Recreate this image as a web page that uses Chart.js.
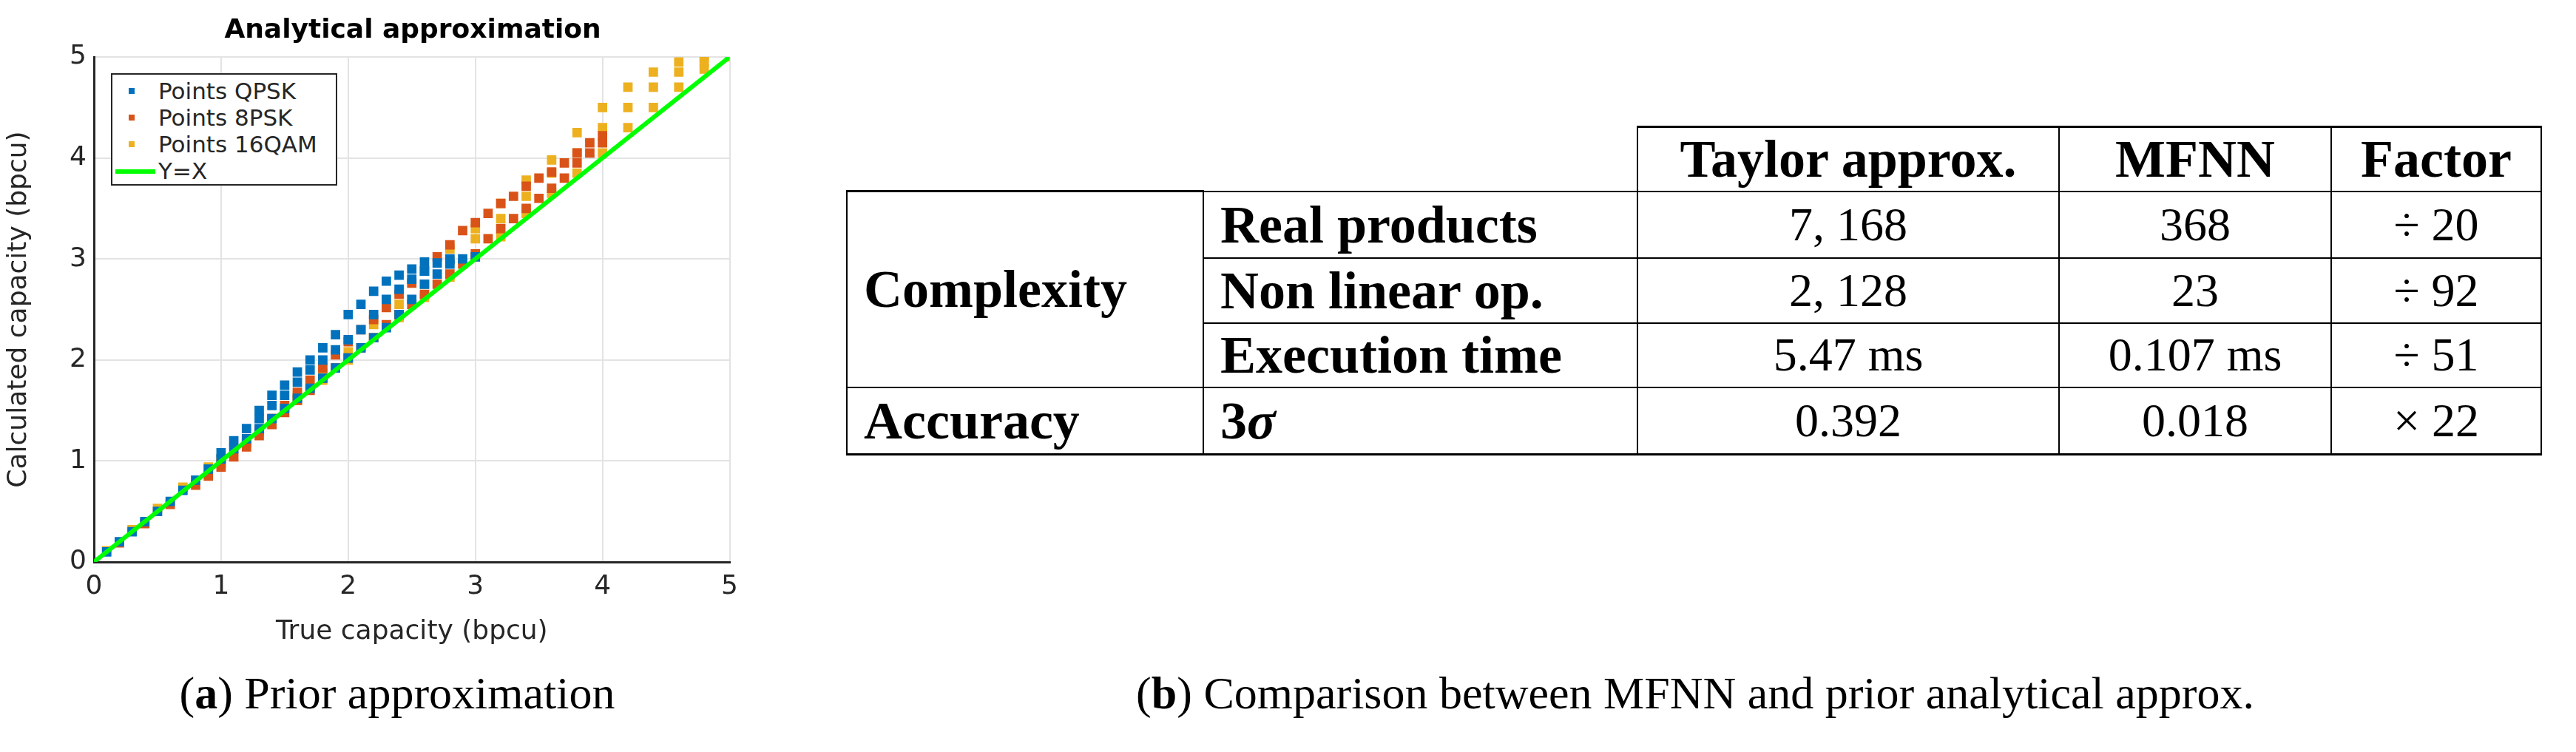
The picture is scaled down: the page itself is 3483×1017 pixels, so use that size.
<!DOCTYPE html>
<html><head><meta charset="utf-8">
<script src="https://cdn.jsdelivr.net/npm/chart.js@4"></script>
<style>
body{margin:0;background:#fff;width:3483px;height:1017px;position:relative;overflow:hidden;font-family:"DejaVu Sans",sans-serif}
#cw{position:absolute;left:0;top:0;width:1010px;height:880px}
#ttl{position:absolute;left:127px;width:862px;top:18px;text-align:center;font:bold 36px "DejaVu Sans";color:#000}
#leg{position:absolute;left:150px;top:99px;width:306px;height:152px;border:2px solid #262626;background:#fff;box-sizing:border-box;font:31px "DejaVu Sans";color:#262626;padding-top:4px}
#leg div{height:36px;line-height:36px;position:relative;padding-left:62px}
#leg span.m{position:absolute;left:22px;top:14px;width:8px;height:8px}
#leg span.l{position:absolute;left:4px;top:16px;width:54px;height:6px}
.cap{position:absolute;top:902px;font-family:"Liberation Serif",serif;font-size:62px;color:#000;white-space:nowrap;transform:translateX(-50%)}
table{position:absolute;left:1144px;top:170px;border-collapse:collapse;font-family:"Liberation Serif",serif;font-size:64px;color:#000}
td{border:2px solid #000;padding:0 22px;white-space:nowrap;line-height:1}
td.n{border:none}
.b{font-weight:bold;font-size:72px}
.c{text-align:center}
</style></head><body>
<div id="cw"><canvas id="c"></canvas></div>
<div id="ttl">Analytical approximation</div>
<div id="leg"></div>
<div class="cap" style="left:537px">(<b>a</b>) Prior approximation</div>
<div class="cap" style="left:2292px">(<b>b</b>) Comparison between MFNN and prior analytical approx.</div>
<table id="tb"></table>
<script>
// Scatter values (true capacity x, calculated capacity y)
const qpskX=[0.1,0.2,0.3,0.4,0.5,0.6,0.7,0.8,0.9,1.0,1.0,1.1,1.1,1.2,1.2,1.3,1.3,1.3,1.4,1.4,1.4,1.5,1.5,1.5,1.6,1.6,1.6,1.7,1.7,1.7,1.8,1.8,1.8,1.9,1.9,1.9,2.0,2.0,2.0,2.1,2.1,2.1,2.2,2.2,2.2,2.3,2.3,2.3,2.4,2.4,2.4,2.5,2.5,2.5,2.6,2.6,2.6,2.7,2.7,2.8,2.8,2.9,3.0];
const qpskY=[0.1,0.2,0.3,0.4,0.5,0.6,0.71,0.81,0.92,1.02,1.08,1.12,1.2,1.22,1.32,1.32,1.42,1.5,1.42,1.55,1.65,1.52,1.65,1.75,1.62,1.78,1.88,1.72,1.9,2.0,1.82,2.0,2.12,1.92,2.1,2.25,2.02,2.2,2.45,2.12,2.3,2.55,2.22,2.45,2.68,2.32,2.6,2.78,2.45,2.7,2.84,2.6,2.8,2.9,2.75,2.88,2.97,2.85,2.96,2.95,3.0,3.0,3.02];
const psk8X=[0.2,0.4,0.6,0.8,0.9,1.0,1.0,1.1,1.2,1.2,1.3,1.3,1.4,1.4,1.5,1.5,1.6,1.6,1.7,1.7,1.8,1.8,1.9,1.9,2.0,2.0,2.1,2.1,2.2,2.2,2.3,2.3,2.4,2.4,2.5,2.5,2.6,2.6,2.7,2.7,2.8,2.8,2.9,2.9,3.0,3.0,3.1,3.1,3.2,3.2,3.3,3.3,3.4,3.4,3.5,3.5,3.6,3.6,3.7,3.7,3.8,3.8,3.9,3.9,4.0,4.0];
const psk8Y=[0.19,0.38,0.57,0.76,0.85,0.94,0.98,1.04,1.14,1.18,1.25,1.3,1.36,1.42,1.48,1.55,1.6,1.68,1.7,1.8,1.82,1.92,1.92,2.05,2.02,2.18,2.12,2.3,2.22,2.4,2.35,2.52,2.45,2.65,2.55,2.76,2.65,2.88,2.75,3.02,2.85,3.14,2.95,3.28,3.05,3.36,3.2,3.45,3.3,3.55,3.4,3.62,3.5,3.72,3.6,3.8,3.7,3.86,3.8,3.95,3.95,4.05,4.05,4.15,4.15,4.22];
const qam16X=[0.1,0.3,0.5,0.7,0.9,1.0,1.2,1.4,1.6,1.6,1.8,1.8,2.0,2.0,2.2,2.2,2.4,2.4,2.6,2.6,2.8,2.8,2.8,3.0,3.0,3.0,3.2,3.2,3.2,3.4,3.4,3.4,3.6,3.6,3.6,3.8,3.8,3.8,4.0,4.0,4.0,4.2,4.2,4.2,4.4,4.4,4.4,4.6,4.6,4.6,4.8,4.8,4.8,5.0];
const qam16Y=[0.11,0.32,0.53,0.74,0.94,1.02,1.2,1.4,1.6,1.65,1.8,1.87,2.0,2.08,2.22,2.35,2.42,2.55,2.62,2.75,2.82,2.98,3.1,3.02,3.2,3.3,3.22,3.4,3.55,3.45,3.62,3.78,3.65,3.85,3.98,3.85,4.05,4.25,4.05,4.3,4.5,4.3,4.5,4.7,4.5,4.7,4.85,4.7,4.85,4.95,4.88,4.95,5.0,5.0];
const refX=[0,5], refY=[0,5];
const seriesNames=['Points QPSK','Points 8PSK','Points 16QAM','Y=X'];
const seriesColors=['#0072BD','#D95319','#EDB120','#00FF00'];
const axisTicks=[0,1,2,3,4,5];
// Table
const colHeads=['Taylor approx.','MFNN','Factor'];
const rowGroups=['Complexity','Complexity','Complexity','Accuracy'];
const rowNames=['Real products','Non linear op.','Execution time','3<i>σ</i>'];
const taylorVals=['7, 168','2, 128','5.47 ms','0.392'];
const mfnnVals=['368','23','0.107 ms','0.018'];
const factorVals=['÷ 20','÷ 92','÷ 51','× 22'];

const pts=(xs,ys)=>xs.map((x,i)=>({x,y:ys[i]}));
const sc=(i,xs,ys)=>({type:'scatter',label:seriesNames[i],data:pts(xs,ys),backgroundColor:seriesColors[i],borderColor:seriesColors[i],pointStyle:'rect',pointRadius:9,pointBorderWidth:0,order:2});
new Chart(document.getElementById('c'),{
 data:{datasets:[sc(0,qpskX,qpskY),sc(1,psk8X,psk8Y),sc(2,qam16X,qam16Y),
  {type:'line',label:seriesNames[3],data:pts(refX,refY),borderColor:seriesColors[3],borderWidth:6,pointRadius:0,order:1}]},
 options:{responsive:true,maintainAspectRatio:false,animation:false,
  layout:{padding:{top:77,right:21,left:0,bottom:0}},
  plugins:{legend:{display:false},tooltip:{enabled:false}},
  scales:{
   x:{type:'linear',min:0,max:5,afterBuildTicks:s=>{s.ticks=axisTicks.map(v=>({value:v}))},
      afterFit:s=>{s.height=120},
      grid:{color:'#e3e3e3',lineWidth:2,drawTicks:false},border:{color:'#262626',width:3},
      ticks:{font:{size:36,family:'DejaVu Sans'},color:'#262626',padding:12,maxRotation:0},
      title:{display:true,text:'True capacity (bpcu)',font:{size:36,family:'DejaVu Sans'},color:'#262626',padding:{top:0}}},
   y:{type:'linear',min:0,max:5,afterBuildTicks:s=>{s.ticks=axisTicks.map(v=>({value:v}))},
      afterFit:s=>{s.width=127},
      grid:{color:'#e3e3e3',lineWidth:2,drawTicks:false},border:{color:'#262626',width:3},
      ticks:{font:{size:36,family:'DejaVu Sans'},color:'#262626',padding:10},
      title:{display:true,text:'Calculated capacity (bpcu)',font:{size:36,family:'DejaVu Sans'},color:'#262626',padding:{bottom:4}}}
  }}
});
// legend
const leg=document.getElementById('leg');
seriesNames.forEach((n,i)=>{const d=document.createElement('div');
 d.innerHTML=(i<3?'<span class="m" style="background:'+seriesColors[i]+'"></span>':'<span class="l" style="background:'+seriesColors[i]+'"></span>')+n;leg.appendChild(d);});
// table
const W=[482,587,570,368,284],H=[87,90,88,87,91];
let h='<colgroup>'+W.map(w=>'<col style="width:'+w+'px">').join('')+'</colgroup>';
h+='<tr style="height:'+H[0]+'px"><td class="n"></td><td class="n"></td>'+colHeads.map(c=>'<td class="b c" style="border-width:3px 2px 2px">'+c+'</td>').join('')+'</tr>';
for(let r=0;r<4;r++){
 h+='<tr style="height:'+H[r+1]+'px">';
 if(r===0)h+='<td class="b" rowspan="3" style="border-top-width:3px">'+rowGroups[0]+'</td>';
 if(r===3)h+='<td class="b" style="border-bottom-width:3px">'+rowGroups[3]+'</td>';
 const bb=r===3?'border-bottom-width:3px;':'';
 h+='<td class="b" style="'+bb+'">'+rowNames[r]+'</td><td class="c" style="'+bb+'">'+taylorVals[r]+'</td><td class="c" style="'+bb+'">'+mfnnVals[r]+'</td><td class="c" style="'+bb+'">'+factorVals[r]+'</td></tr>';
}
document.getElementById('tb').innerHTML=h;
</script></body></html>
